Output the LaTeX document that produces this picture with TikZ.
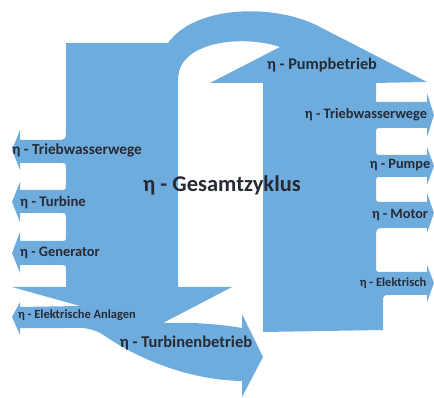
\documentclass[tikz,border=0pt]{standalone}
\usepackage{fontspec}
\setmainfont{Carlito}
\definecolor{flowblue}{RGB}{111,172,222}
\definecolor{lbltext}{RGB}{38,42,52}
\begin{document}
\begin{tikzpicture}[x=1pt,y=-1pt,
  flow/.style={fill=flowblue,draw=none},
  lbl/.style={text=lbltext,inner sep=0pt,font=\bfseries\fontsize{#1}{#1}\selectfont}]
\useasboundingbox (0,0) rectangle (434,398);
% arch on top, from the pump column back to the turbine column
\fill[flow] (168,43) .. controls (195,5) and (275,3) .. (320,27) -- (427,82) -- (372,83)
  -- (210,83) -- (280,47) .. controls (245,35) and (180,40) .. (178,78) -- (178,43) -- cycle;
% turbine column with its losses
\fill[flow] (178,43) -- (66,43) -- (66,128) .. controls (66,140) .. (56,140) -- (20,140)
  -- (20,130) -- (12,150) -- (20,170) -- (20,163) -- (60,163) .. controls (66,163) .. (66,169)
  -- (66,184) .. controls (66,190) .. (60,190) -- (20,190) -- (20,182) -- (12,202) -- (20,222)
  -- (20,213) -- (60,213) .. controls (66,213) .. (66,219)
  -- (66,235) .. controls (66,241) .. (60,241) -- (20,241) -- (20,232) -- (12,253) -- (20,273)
  -- (20,265) -- (60,265) .. controls (66,265) .. (66,271)
  -- (66,287) -- (12,287) -- (80,306) -- (20,307) -- (20,302) -- (12,317) -- (20,335)
  -- (20,328) -- (65,328) .. controls (80,328) and (90,326) .. (105,336)
  .. controls (140,360) and (190,380) .. (242,381) -- (242,397) -- (263,357) -- (242,314)
  -- (242,328) .. controls (220,324) and (190,322) .. (163,323) -- (232,287) -- (178,287) -- cycle;
% pump column with its losses
\fill[flow] (263,83) -- (376,83) -- (376,102) -- (427,102) -- (427,93) -- (434,115) -- (427,137)
  -- (427,128) -- (382,128) .. controls (376,128) .. (376,134)
  -- (376,149) .. controls (376,155) .. (382,155) -- (427,155) -- (427,147) -- (434,166) -- (427,185)
  -- (427,177) -- (382,177) .. controls (376,177) .. (376,183)
  -- (376,196) .. controls (376,202) .. (382,202) -- (427,202) -- (427,193) -- (434,213) -- (427,233)
  -- (427,228) -- (386,228) .. controls (376,228) .. (376,238)
  -- (376,266) .. controls (376,272) .. (382,272) -- (427,272) -- (427,265) -- (434,283) -- (427,302)
  -- (427,295) -- (391,295) .. controls (383,295) .. (383,303) -- (383,330) -- (263,332) -- cycle;
% labels
\node[lbl=22.5] (gesamt) at (222,185) {η - Gesamtzyklus};
\node[lbl=16.3] (pumpbetrieb) at (322,65) {η - Pumpbetrieb};
\node[lbl=16.5] (turbinenbetrieb) at (186,343) {η - Turbinenbetrieb};
\node[lbl=15.3] (twwlinks) at (77,150) {η - Triebwasserwege};
\node[lbl=14.7] (turbine) at (53,202) {η - Turbine};
\node[lbl=14.4] (generator) at (60,253) {η - Generator};
\node[lbl=12.5] (anlagen) at (77,315) {η - Elektrische Anlagen};
\node[lbl=14.4] (twwrechts) at (366,115) {η - Triebwasserwege};
\node[lbl=14.3] (pumpe) at (400,165) {η - Pumpe};
\node[lbl=14.2] (motor) at (400,215) {η - Motor};
\node[lbl=12.5] (elektrisch) at (393,283) {η - Elektrisch};
\end{tikzpicture}
\end{document}
